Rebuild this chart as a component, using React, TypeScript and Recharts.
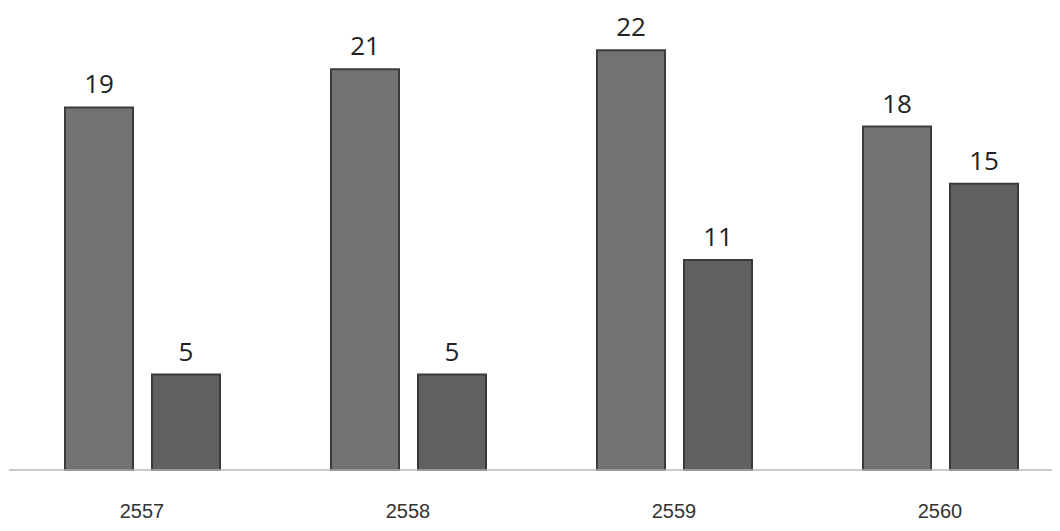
import React from "react";
import { BarChart, Bar, XAxis, YAxis, LabelList } from "recharts";

const years = ["2557", "2558", "2559", "2560"];
const seriesA = [19, 21, 22, 18];
const seriesB = [5, 5, 11, 15];

const data = years.map((y, i) => ({ year: y, a: seriesA[i], b: seriesB[i] }));

export default function App() {
  return (
    <div style={{ marginLeft: -8, marginTop: -8, width: 1060, height: 531, overflow: "hidden", background: "#fff" }}>
      <BarChart
        width={1082}
        height={531}
        data={data}
        margin={{ top: 12, right: 9, left: 9, bottom: 0 }}
        barCategoryGap={56}
        barGap={19}
      >
        <XAxis
          dataKey="year"
          height={61}
          tickLine={false}
          tickSize={0}
          tickMargin={34}
          axisLine={{ stroke: "#b8b8b8", strokeWidth: 1.5 }}
          tick={{ fill: "#333", fontSize: 20, fontFamily: "Liberation Sans, Arial, sans-serif" }}
        />
        <YAxis hide domain={[0, 24]} />
        <Bar dataKey="a" fill="#727272" stroke="#3c3c3c" strokeWidth={2} isAnimationActive={false}>
          <LabelList dataKey="a" position="top" offset={14} fill="#222" fontSize={26} fontFamily="Open Sans, sans-serif" />
        </Bar>
        <Bar dataKey="b" fill="#606060" stroke="#3a3a3a" strokeWidth={2} isAnimationActive={false}>
          <LabelList dataKey="b" position="top" offset={14} fill="#222" fontSize={26} fontFamily="Open Sans, sans-serif" />
        </Bar>
      </BarChart>
    </div>
  );
}
